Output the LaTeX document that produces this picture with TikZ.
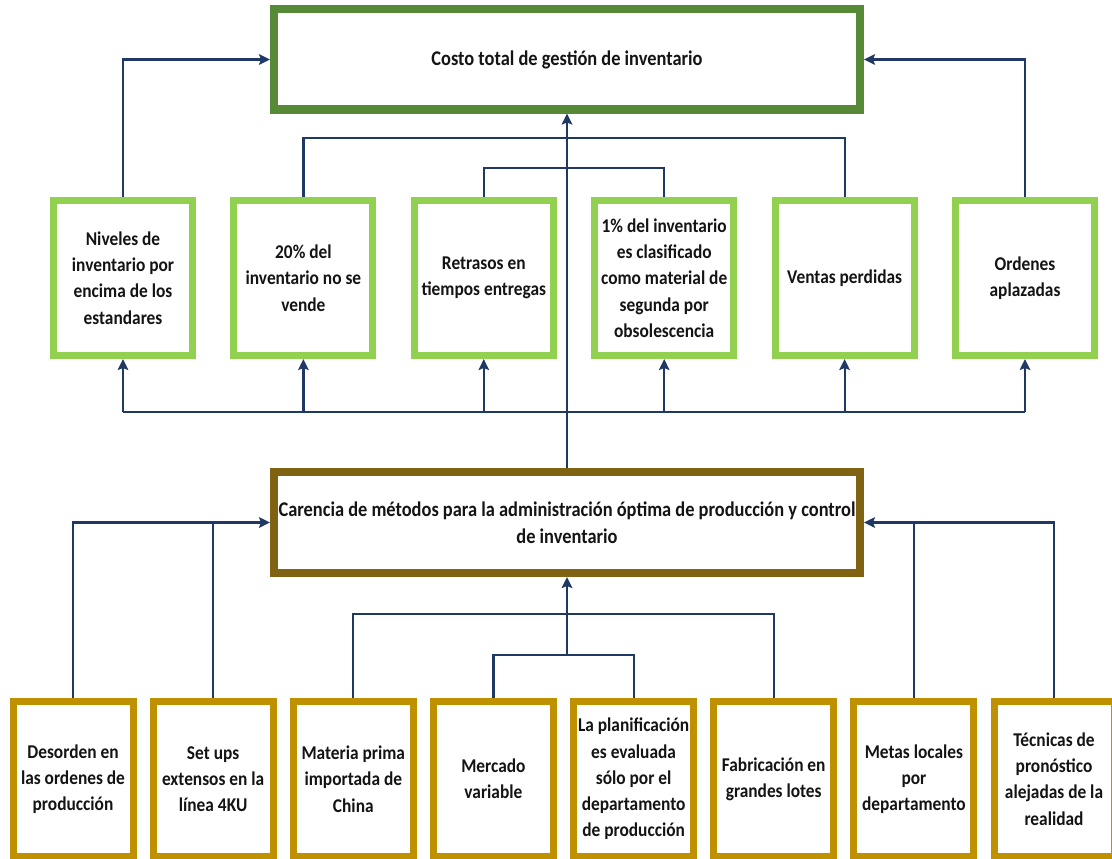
\documentclass[tikz,border=0pt]{standalone}
\usepackage{fontspec}
\setmainfont{Carlito}
\newfontfamily\smallboxfont{Carlito}[FakeStretch=0.89]
\newfontfamily\bigboxfont{Carlito}[FakeStretch=0.88]
\usetikzlibrary{arrows.meta}
\definecolor{topgreen}{HTML}{568A36}
\definecolor{lightgreen}{HTML}{92D050}
\definecolor{olivebrown}{HTML}{7F6212}
\definecolor{goldbox}{HTML}{BF9000}
\definecolor{navy}{HTML}{1F3864}
\definecolor{txt}{HTML}{141414}
\tikzset{
  bigbox/.style={draw, fill=white, line width=8pt, minimum width=586pt, minimum height=100pt,
    align=center, text=txt, font=\bigboxfont\bfseries\fontsize{20.9}{27}\selectfont, inner sep=0pt},
  effbox/.style={draw=lightgreen, fill=white, line width=7pt, minimum width=139pt, minimum height=155pt,
    align=center, text=txt, font=\smallboxfont\bfseries\fontsize{19.5}{26.3}\selectfont, inner sep=0pt},
  causebox/.style={draw=goldbox, fill=white, line width=7pt, minimum width=120pt, minimum height=155pt,
    align=center, text=txt, font=\smallboxfont\bfseries\fontsize{19.5}{26.3}\selectfont, inner sep=0pt},
  conn/.style={draw=navy, line width=2.2pt},
  arr/.style={conn, -{Stealth[length=11pt,width=10.5pt,inset=2pt]}},
}
\begin{document}
\begin{tikzpicture}[x=1pt,y=-1pt]
\useasboundingbox (0,0) rectangle (1112,859);
\clip (0,0) rectangle (1112,859);
% top
\node[bigbox, draw=topgreen] (top) at (567,59.5) {Costo total de gestión de inventario};
% effects
\node[effbox] (t1) at (123,278) {Niveles de\\inventario por\\encima de los\\estandares};
\node[effbox] (t2) at (303.4,278) {20\% del\\inventario no se\\vende};
\node[effbox] (t3) at (483.8,278) {Retrasos en\\tiempos entregas};
\node[effbox] (t4) at (664.2,278) {1\% del inventario\\es clasificado\\como material de\\segunda por\\obsolescencia};
\node[effbox] (t5) at (844.6,278) {Ventas perdidas};
\node[effbox] (t6) at (1025,278) {Ordenes\\aplazadas};
% middle
\node[bigbox, draw=olivebrown, minimum height=101pt] (mid) at (567,522.5) {Carencia de métodos para la administración óptima de producción y control\\de inventario};
% causes
\node[causebox] (b1) at (73,779) {Desorden en\\las ordenes de\\producción};
\node[causebox] (b2) at (213.1,779) {Set ups\\extensos en la\\línea 4KU};
\node[causebox] (b3) at (353.3,779) {Materia prima\\importada de\\China};
\node[causebox] (b4) at (493.4,779) {Mercado\\variable};
\node[causebox] (b5) at (633.6,779) {La planificación\\es evaluada\\sólo por el\\departamento\\de producción};
\node[causebox] (b6) at (773.7,779) {Fabricación en\\grandes lotes};
\node[causebox] (b7) at (913.9,779) {Metas locales\\por\\departamento};
\node[causebox] (b8) at (1054,779) {Técnicas de\\pronóstico\\alejadas de la\\realidad};
% top connectors
\draw[arr] (t1.north) |- (top.west);
\draw[arr] (t6.north) |- (top.east);
\draw[conn] (t2.north) -- (t2.north |- 0,138) -- (t5.north |- 0,138) -- (t5.north);
\draw[conn] (t3.north) -- (t3.north |- 0,168) -- (t4.north |- 0,168) -- (t4.north);
\draw[arr, line width=2.7pt] (mid.north) -- (top.south);
\draw[conn] (t1.south |- 0,412) -- (t6.south |- 0,412);
\foreach \t in {t1,t2,t3,t4,t5,t6} {\draw[arr] (\t.south |- 0,412) -- (\t.south);}
% bottom connectors
\draw[arr] (b1.north) |- (mid.west);
\draw[conn] (b2.north) -- (b2.north |- mid.west);
\draw[arr] (b8.north) |- (mid.east);
\draw[conn] (b7.north) -- (b7.north |- mid.east);
\draw[conn] (b3.north) -- (b3.north |- 0,614) -- (b6.north |- 0,614) -- (b6.north);
\draw[conn] (b4.north) -- (b4.north |- 0,655) -- (b5.north |- 0,655) -- (b5.north);
\draw[arr, line width=2.7pt] (mid.south |- 0,655) -- (mid.south);
\end{tikzpicture}
\end{document}
